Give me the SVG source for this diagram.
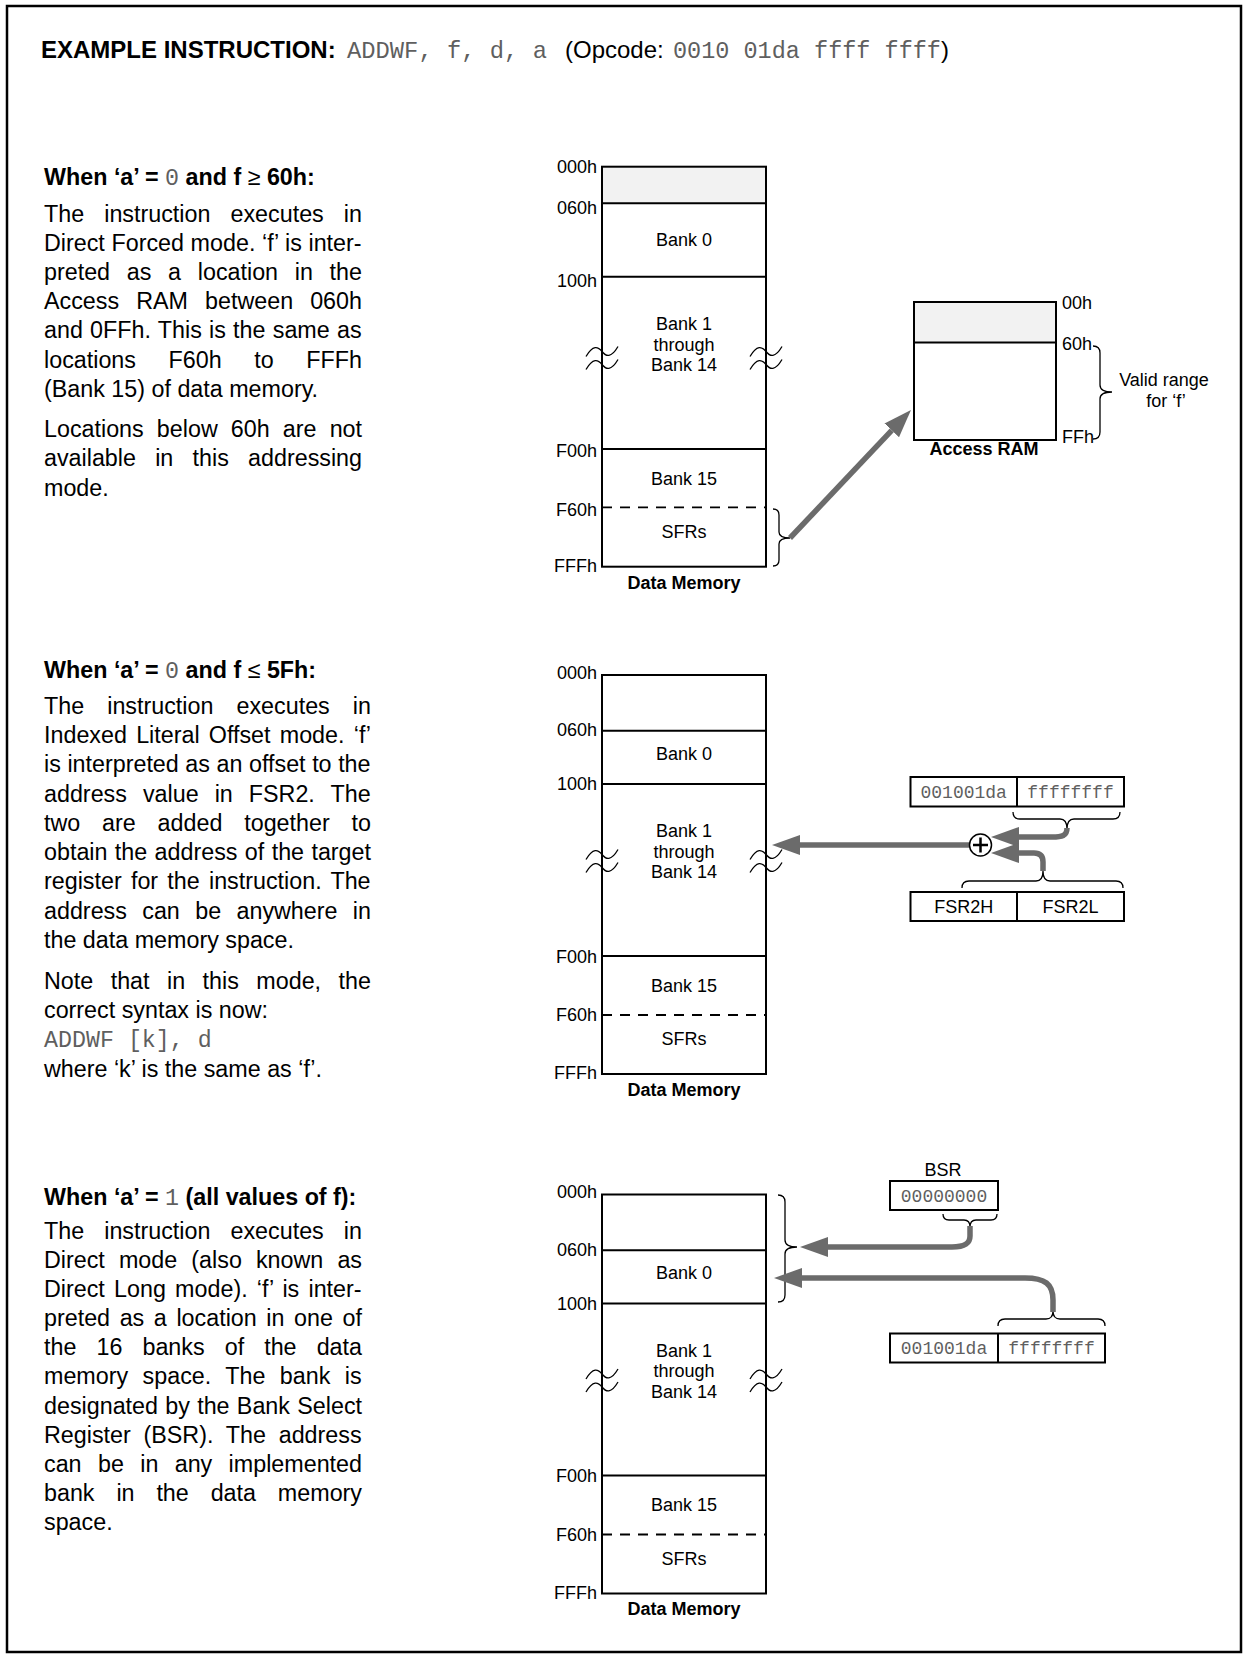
<svg xmlns="http://www.w3.org/2000/svg" width="1249" height="1663" viewBox="0 0 1249 1663">
<defs>
<style>
text{font-family:"Liberation Sans",Arial,sans-serif;fill:#000}
.t{font-size:23.3px}
.b{font-weight:bold}
.m{font-family:"Liberation Mono","Courier New",monospace;font-weight:normal;fill:#5f5f5f}
.l{font-size:18px}
.c{text-anchor:middle}
.e{text-anchor:end}
.box{fill:none;stroke:#000;stroke-width:2}
.ln{stroke:#000;stroke-width:2}
.dash{stroke:#000;stroke-width:1.8;stroke-dasharray:10 8}
.thin{fill:none;stroke:#000;stroke-width:1.3}
.shade{fill:#f2f2f2}
.arr{fill:none;stroke:#6b6b6b;stroke-width:5.5}
</style>
<marker id="ah" markerUnits="userSpaceOnUse" viewBox="0 0 28 20" refX="0" refY="10" markerWidth="28" markerHeight="20" orient="auto"><path d="M0,0 L28,10 L0,20 Z" fill="#6b6b6b"/></marker>
<path id="sq" d="M-16,5 C-9,-7 -4,-5 0,0 C4,5 9,7 16,-5"/>
</defs>
<rect x="0" y="0" width="1249" height="1663" fill="#fff"/>
<rect x="7" y="6" width="1234" height="1646" fill="none" stroke="#000" stroke-width="2.5"/>

<g id="title">
<text class="t" y="57.5"><tspan class="b" x="41" style="font-size:24px">EXAMPLE INSTRUCTION:</tspan><tspan class="m" x="347" style="font-size:23.8px">ADDWF, f, d, a</tspan><tspan x="565" style="font-size:24px">(Opcode:</tspan><tspan class="m" x="673" style="font-size:23.5px">0010 01da ffff ffff</tspan><tspan style="font-size:24px">)</tspan></text>
</g>

<g id="text-direct-forced" class="t">
<text class="t b" x="44" y="185">When ‘a’ = <tspan class="m">0</tspan> and f <tspan style="font-weight:normal">≥</tspan> 60h:</text>
<text class="t" x="44" y="222" style="word-spacing:13.62px">The instruction executes in</text>
<text class="t" x="44" y="251" style="word-spacing:0.16px">Direct Forced mode. ‘f’ is inter-</text>
<text class="t" x="44" y="280" style="word-spacing:10.24px">preted as a location in the</text>
<text class="t" x="44" y="309" style="word-spacing:10.6px">Access RAM between 060h</text>
<text class="t" x="44" y="338" style="word-spacing:0.77px">and 0FFh. This is the same as</text>
<text class="t" x="44" y="368" style="word-spacing:26.14px">locations F60h to FFFh</text>
<text class="t" x="44" y="397">(Bank 15) of data memory.</text>
<text class="t" x="44" y="437" style="word-spacing:6.65px">Locations below 60h are not</text>
<text class="t" x="44" y="466" style="word-spacing:12.76px">available in this addressing</text>
<text class="t" x="44" y="496">mode.</text>
</g>

<g id="text-indexed" class="t">
<text class="t b" x="44" y="678">When ‘a’ = <tspan class="m">0</tspan> and f <tspan style="font-weight:normal">≤</tspan> 5Fh:</text>
<text class="t" x="44" y="714" style="word-spacing:16.62px">The instruction executes in</text>
<text class="t" x="44" y="743" style="word-spacing:2.75px">Indexed Literal Offset mode. ‘f’</text>
<text class="t" x="44" y="772" style="word-spacing:0.1px">is interpreted as an offset to the</text>
<text class="t" x="44" y="801.5" style="word-spacing:9.56px">address value in FSR2. The</text>
<text class="t" x="44" y="830.5" style="word-spacing:15.37px">two are added together to</text>
<text class="t" x="44" y="860" style="word-spacing:0.9px">obtain the address of the target</text>
<text class="t" x="44" y="889" style="word-spacing:2.76px">register for the instruction. The</text>
<text class="t" x="44" y="918.5" style="word-spacing:8.9px">address can be anywhere in</text>
<text class="t" x="44" y="948">the data memory space.</text>
<text class="t" x="44" y="989" style="word-spacing:11px">Note that in this mode, the</text>
<text class="t" x="44" y="1018">correct syntax is now:</text>
<text class="t m" x="44" y="1047">ADDWF [k], d</text>
<text class="t" x="44" y="1076.5">where ‘k’ is the same as ‘f’.</text>
</g>

<g id="text-direct" class="t">
<text class="t b" x="44" y="1205">When ‘a’ = <tspan class="m">1</tspan> (all values of f):</text>
<text class="t" x="44" y="1238.5" style="word-spacing:13.62px">The instruction executes in</text>
<text class="t" x="44" y="1267.5" style="word-spacing:7.64px">Direct mode (also known as</text>
<text class="t" x="44" y="1296.5" style="word-spacing:2.75px">Direct Long mode). ‘f’ is inter-</text>
<text class="t" x="44" y="1326" style="word-spacing:3.13px">preted as a location in one of</text>
<text class="t" x="44" y="1355" style="word-spacing:13.6px">the 16 banks of the data</text>
<text class="t" x="44" y="1384" style="word-spacing:7.96px">memory space. The bank is</text>
<text class="t" x="44" y="1413.5" style="word-spacing:0.82px">designated by the Bank Select</text>
<text class="t" x="44" y="1442.5" style="word-spacing:6.3px">Register (BSR). The address</text>
<text class="t" x="44" y="1472" style="word-spacing:9.89px">can be in any implemented</text>
<text class="t" x="44" y="1501" style="word-spacing:15.4px">bank in the data memory</text>
<text class="t" x="44" y="1530">space.</text>
</g>

<g id="data-memory-1">
<rect class="shade" x="602" y="166.7" width="164" height="36.6"/>
<rect class="box" x="602" y="166.7" width="164" height="400"/>
<line class="ln" x1="602" y1="203.3" x2="766" y2="203.3"/>
<line class="ln" x1="602" y1="276.7" x2="766" y2="276.7"/>
<line class="ln" x1="602" y1="449" x2="766" y2="449"/>
<line class="dash" x1="602" y1="507.3" x2="766" y2="507.3"/>
<use href="#sq" class="thin" x="602" y="351.5"/>
<use href="#sq" class="thin" x="602" y="364.5"/>
<use href="#sq" class="thin" x="766" y="351.5"/>
<use href="#sq" class="thin" x="766" y="364.5"/>
<text class="l e" x="597" y="172.5">000h</text>
<text class="l e" x="597" y="213.5">060h</text>
<text class="l e" x="597" y="287">100h</text>
<text class="l e" x="597" y="457">F00h</text>
<text class="l e" x="597" y="516">F60h</text>
<text class="l e" x="597" y="571.5">FFFh</text>
<text class="l c" x="684" y="245.5">Bank 0</text>
<text class="l c" x="684" y="330">Bank 1</text>
<text class="l c" x="684" y="350.5">through</text>
<text class="l c" x="684" y="371">Bank 14</text>
<text class="l c" x="684" y="484.5">Bank 15</text>
<text class="l c" x="684" y="537.5">SFRs</text>
<text class="l c b" x="684" y="588.5">Data Memory</text>
<path class="thin" d="M773,509 Q779,509 779,515 V532 Q779,538 790,538 Q779,538 779,544 V560 Q779,566 773,566"/>
</g>

<g id="access-ram">
<rect class="shade" x="914" y="302" width="142" height="40.5"/>
<rect class="box" x="914" y="302" width="142" height="138"/>
<line class="ln" x1="914" y1="342.5" x2="1056" y2="342.5"/>
<text class="l" x="1062" y="309">00h</text>
<text class="l" x="1062" y="349.5">60h</text>
<text class="l" x="1062" y="442.5">FFh</text>
<path class="thin" d="M1093,346 Q1100,346 1100,353 V385 Q1100,392 1112,392 Q1100,392 1100,399 V432 Q1100,439 1093,439"/>
<text class="l c" x="1164" y="386">Valid range</text>
<text class="l c" x="1166" y="407">for ‘f’</text>
<text class="l c b" x="984" y="455">Access RAM</text>
</g>

<g id="data-memory-2">
<rect class="box" x="602" y="675" width="164" height="399"/>
<line class="ln" x1="602" y1="730.7" x2="766" y2="730.7"/>
<line class="ln" x1="602" y1="784" x2="766" y2="784"/>
<line class="ln" x1="602" y1="956" x2="766" y2="956"/>
<line class="dash" x1="602" y1="1015" x2="766" y2="1015"/>
<use href="#sq" class="thin" x="602" y="854.5"/>
<use href="#sq" class="thin" x="602" y="867.5"/>
<use href="#sq" class="thin" x="766" y="854.5"/>
<use href="#sq" class="thin" x="766" y="867.5"/>
<text class="l e" x="597" y="678.5">000h</text>
<text class="l e" x="597" y="736">060h</text>
<text class="l e" x="597" y="790">100h</text>
<text class="l e" x="597" y="962.5">F00h</text>
<text class="l e" x="597" y="1021">F60h</text>
<text class="l e" x="597" y="1079">FFFh</text>
<text class="l c" x="684" y="759.5">Bank 0</text>
<text class="l c" x="684" y="837">Bank 1</text>
<text class="l c" x="684" y="857.5">through</text>
<text class="l c" x="684" y="878">Bank 14</text>
<text class="l c" x="684" y="991.5">Bank 15</text>
<text class="l c" x="684" y="1045">SFRs</text>
<text class="l c b" x="684" y="1095.5">Data Memory</text>
</g>

<g id="opcode-reg-2">
<rect class="box" x="910.5" y="777" width="213.5" height="29.5"/>
<line class="ln" x1="1017" y1="777" x2="1017" y2="806.5"/>
<text class="l c m" x="963.7" y="798">001001da</text>
<text class="l c m" x="1070.5" y="798">ffffffff</text>
<path class="thin" d="M1013,812 Q1013,819 1020,819 H1060 Q1067,819 1067,829 Q1067,819 1074,819 H1113 Q1120,819 1120,812"/>
</g>

<g id="fsr2-reg">
<rect class="box" x="910.5" y="892" width="213.5" height="29"/>
<line class="ln" x1="1017" y1="892" x2="1017" y2="921"/>
<text class="l c" x="963.7" y="913">FSR2H</text>
<text class="l c" x="1070.5" y="913">FSR2L</text>
<path class="thin" d="M962,888 Q962,881 969,881 H1036 Q1043,881 1043,871 Q1043,881 1050,881 H1116 Q1123,881 1123,888"/>
</g>

<g id="data-memory-3" transform="translate(0,519.5)">
<rect class="box" x="602" y="675" width="164" height="399"/>
<line class="ln" x1="602" y1="730.7" x2="766" y2="730.7"/>
<line class="ln" x1="602" y1="784" x2="766" y2="784"/>
<line class="ln" x1="602" y1="956" x2="766" y2="956"/>
<line class="dash" x1="602" y1="1015" x2="766" y2="1015"/>
<use href="#sq" class="thin" x="602" y="854.5"/>
<use href="#sq" class="thin" x="602" y="867.5"/>
<use href="#sq" class="thin" x="766" y="854.5"/>
<use href="#sq" class="thin" x="766" y="867.5"/>
<text class="l e" x="597" y="678.5">000h</text>
<text class="l e" x="597" y="736">060h</text>
<text class="l e" x="597" y="790">100h</text>
<text class="l e" x="597" y="962.5">F00h</text>
<text class="l e" x="597" y="1021">F60h</text>
<text class="l e" x="597" y="1079">FFFh</text>
<text class="l c" x="684" y="759.5">Bank 0</text>
<text class="l c" x="684" y="837">Bank 1</text>
<text class="l c" x="684" y="857.5">through</text>
<text class="l c" x="684" y="878">Bank 14</text>
<text class="l c" x="684" y="991.5">Bank 15</text>
<text class="l c" x="684" y="1045">SFRs</text>
<text class="l c b" x="684" y="1095.5">Data Memory</text>
<path class="thin" d="M778,675.5 Q785,675.5 785,682.5 V720.5 Q785,727.5 797,727.5 Q785,727.5 785,734.5 V775.5 Q785,782.5 778,782.5"/>
</g>

<g id="bsr-reg">
<text class="l c" x="943" y="1176">BSR</text>
<rect class="box" x="890" y="1181" width="108" height="29"/>
<text class="l c m" x="944" y="1201.5">00000000</text>
<path class="thin" d="M943,1214 Q943,1220 949,1220 H964 Q970,1220 970,1227 Q970,1220 976,1220 H991 Q997,1220 997,1214"/>
</g>

<g id="opcode-reg-3">
<rect class="box" x="890" y="1333.5" width="215" height="29"/>
<line class="ln" x1="998" y1="1333.5" x2="998" y2="1362.5"/>
<text class="l c m" x="944" y="1354">001001da</text>
<text class="l c m" x="1051.5" y="1354">ffffffff</text>
<path class="thin" d="M998,1326 Q998,1319 1005,1319 H1046 Q1053,1319 1053,1311 Q1053,1319 1060,1319 H1098 Q1105,1319 1105,1326"/>
</g>

<g id="connectors">
<path class="arr" d="M790,538 L891.75,430.36" marker-end="url(#ah)"/>
<path class="arr" d="M969,845 L800,845" marker-end="url(#ah)"/>
<path class="arr" d="M1067,828 C1067,836 1062,837 1052,837 L1019,837" marker-end="url(#ah)"/>
<path class="arr" d="M1043,871 L1043,862 C1043,856 1040,853 1034,853 L1019,853" marker-end="url(#ah)"/>
<path class="arr" d="M970,1226 L970,1236 C970,1244 964,1247 952,1247 L828,1247" marker-end="url(#ah)"/>
<path class="arr" d="M1053,1312 L1053,1300 C1053,1284 1045,1278 1025,1278 L802,1278" marker-end="url(#ah)"/>
</g>

<g id="adder">
<circle cx="980.5" cy="845" r="11" fill="#fff" stroke="#000" stroke-width="1.5"/>
<path d="M973,845 H988 M980.5,837.5 V852.5" stroke="#000" stroke-width="2.5"/>
</g>
</svg>
